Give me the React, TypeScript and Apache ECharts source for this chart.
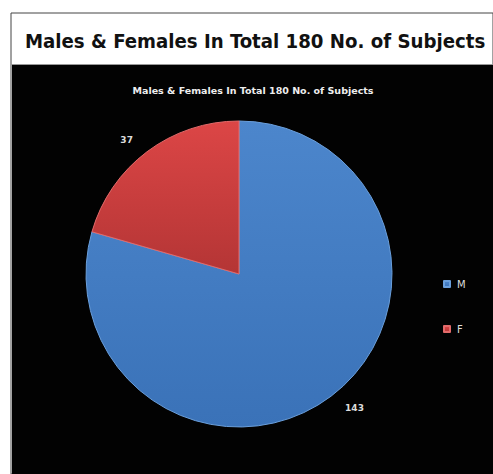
import React, { useEffect, useRef } from "react";
import * as echarts from "echarts";

const mainTitle = "Males & Females In Total 180 No. of Subjects";
const chartTitle = "Males & Females In Total 180 No. of Subjects";
const categories = ["M", "F"];
const values = [143, 37];
const topColors = ["#4c86cc", "#dc4646"];
const bottomColors = ["#3a72b8", "#b43535"];

export default function App() {
  const ref = useRef<HTMLDivElement>(null);
  useEffect(() => {
    document.body.style.margin = "0";
    const chart = echarts.init(ref.current!, null, { renderer: "svg" });
    chart.setOption({
      animation: false,
      backgroundColor: "#ffffff",
      graphic: [
        { type: "rect", shape: { x: 11, y: 13, width: 482, height: 461 }, style: { fill: "#ffffff", stroke: "#444", lineWidth: 1 }, z: 0 },
        { type: "rect", shape: { x: 12, y: 65, width: 481, height: 409 }, style: { fill: "#020202" }, z: 1 },
        { type: "line", shape: { x1: 11, y1: 64.5, x2: 493, y2: 64.5 }, style: { stroke: "#999", lineWidth: 1 }, z: 1 },
      ],
      title: [
        {
          text: mainTitle,
          left: 20,
          top: 26,
          textStyle: { fontFamily: "DejaVu Sans Condensed", fontWeight: "bold", fontSize: 20.2, color: "#111" },
        },
        {
          text: chartTitle,
          left: 248,
          textAlign: "center",
          top: 80,
          textStyle: { fontFamily: "DejaVu Sans", fontWeight: "bold", fontSize: 9.5, color: "#eeeeee" },
        },
      ],
      legend: {
        orient: "vertical",
        left: 438,
        top: 274,
        itemWidth: 6,
        itemHeight: 6,
        itemGap: 35,
        icon: "rect",
        data: categories,
        textStyle: { color: "#dddddd", fontSize: 10, fontFamily: "DejaVu Sans", padding: [0, 0, 0, 2] },
      },
      series: [
        {
          type: "pie",
          center: [239, 274],
          radius: 153,
          startAngle: 90,
          clockwise: true,
          data: categories.map((c, i) => ({
            name: c,
            value: values[i],
            itemStyle: {
              color: new echarts.graphic.LinearGradient(0, 0, 0, 1, [
                { offset: 0, color: topColors[i] },
                { offset: 1, color: bottomColors[i] },
              ]),
              borderColor: i === 0 ? "#6a9fdc" : "#e26a6a",
              borderWidth: 1,
            },
          })),
          label: {
            show: true,
            position: "outside",
            formatter: "{c}",
            color: "#dddddd",
            fontSize: 9,
            fontWeight: "bold",
            fontFamily: "DejaVu Sans",
          },
          labelLine: { show: false, length: 15, length2: 0 },
        },
      ],
    });
    return () => chart.dispose();
  }, []);
  return <div ref={ref} style={{ position: "absolute", left: 0, top: 0, width: 493, height: 474 }} />;
}
